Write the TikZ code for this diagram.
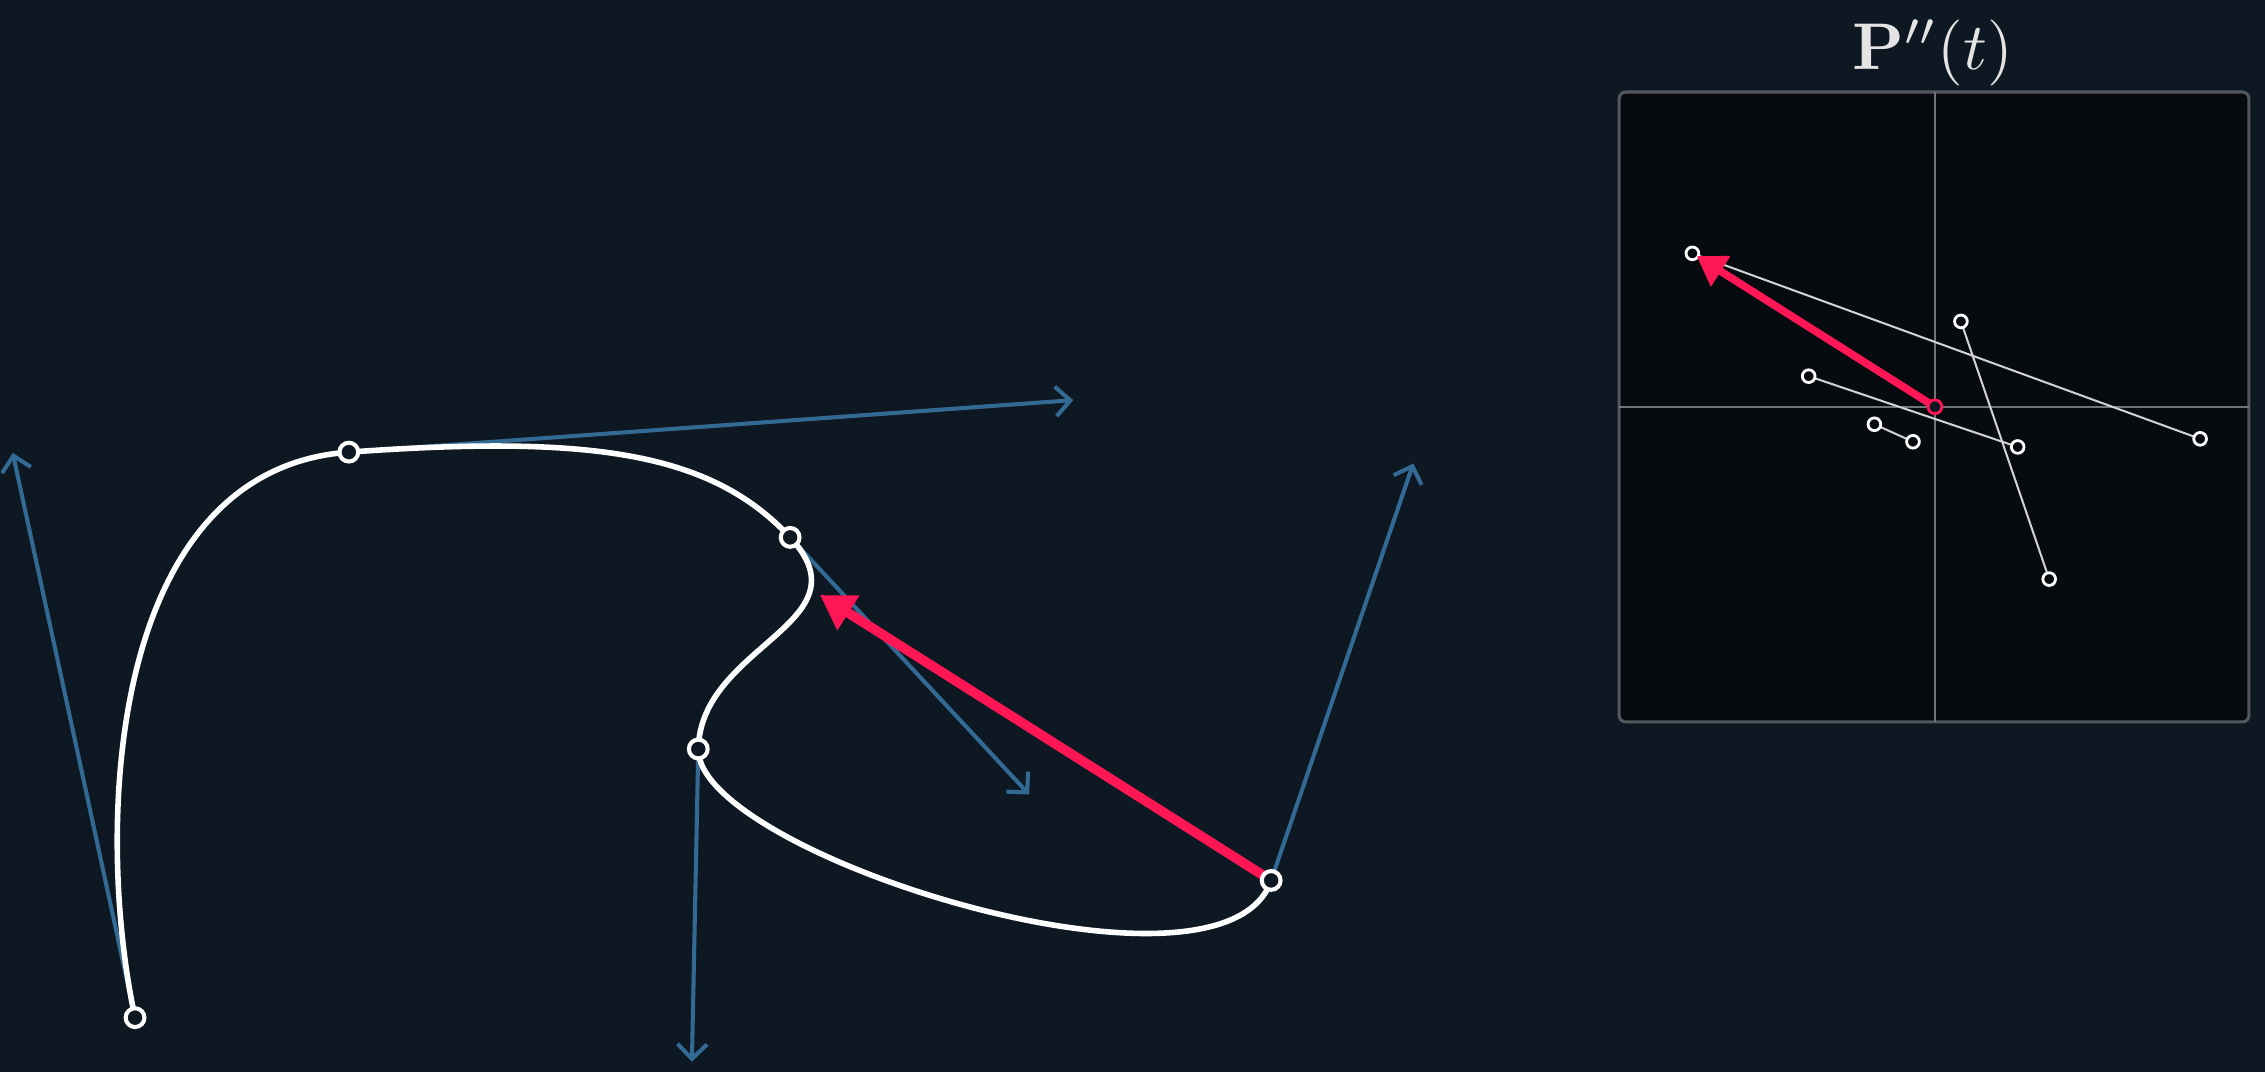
\documentclass[tikz,border=0pt]{standalone}
\usetikzlibrary{arrows.meta}
\definecolor{bg}{RGB}{14,24,34}
\definecolor{panel}{RGB}{7,10,14}
\definecolor{panelborder}{RGB}{82,88,94}
\definecolor{axiscol}{RGB}{112,117,122}
\definecolor{tangentcol}{RGB}{51,106,148}
\definecolor{accelcol}{RGB}{255,22,85}
\definecolor{titlecol}{RGB}{228,228,228}
\definecolor{insetline}{RGB}{210,210,210}
\begin{document}
\begin{tikzpicture}[x=0.01cm,y=-0.01cm,
  curve/.style={draw=white, line width=1.1pt},
  tangentvec/.style={draw=tangentcol, line width=0.8pt, -{Straight Barb[length=2.9pt,width=5.8pt]}},
  accelvec/.style={draw=accelcol, line width=1.9pt, -{Triangle[length=6.6pt,width=7.7pt]}},
  accelsmall/.style={draw=accelcol, line width=1.5pt, -{Triangle[length=5.6pt,width=6.8pt]}, shorten >=1pt},
  mainpt/.style={circle, draw=white, fill=bg, line width=0.8pt, minimum size=0.13cm, inner sep=0pt},
  smallpt/.style={circle, draw=white, fill=panel, line width=0.55pt, minimum size=0.088cm, inner sep=0pt},
  originpt/.style={circle, draw=accelcol, fill=bg, line width=0.55pt, minimum size=0.095cm, inner sep=0pt},
  axisline/.style={draw=axiscol, line width=0.45pt},
  hodo/.style={draw=insetline, line width=0.4pt},
]
% background and bounding box
\fill[bg] (0,0) rectangle (1568,742);
\useasboundingbox (0,0) rectangle (1568,742);

% ---------- inset panel ----------
\coordinate (boxtl) at (1120.9,63.7);
\coordinate (boxbr) at (1556.9,499.8);
\draw[fill=panel, draw=panelborder, line width=0.6pt, rounded corners=1.3pt] (boxtl) rectangle (boxbr);
\coordinate (vtop) at (1339.5,63.7);
\coordinate (vbot) at (1339.5,499.8);
\coordinate (hleft) at (1120.9,281.6);
\coordinate (hright) at (1556.9,281.6);
\draw[axisline] (vtop) -- (vbot);
\draw[axisline] (hleft) -- (hright);

\coordinate (hA) at (1171.6,175.4);
\coordinate (hB) at (1523.1,303.8);
\coordinate (hC) at (1357.5,222.5);
\coordinate (hD) at (1418.6,400.9);
\coordinate (hE) at (1252.1,260.4);
\coordinate (hF) at (1396.8,309.4);
\coordinate (hG) at (1297.6,293.7);
\coordinate (hH) at (1324.3,305.8);
\coordinate (hO) at (1339.5,281.6);

\draw[hodo] (hA) -- (hB);
\draw[hodo] (hC) -- (hD);
\draw[hodo] (hE) -- (hF);
\draw[hodo] (hG) -- (hH);

\foreach \p in {hA,hB,hC,hD,hE,hF,hG,hH}
  \node[smallpt] (n\p) at (\p) {};
\draw[accelsmall] (hO) -- (hA);
\node[originpt] (nhO) at (hO) {};

\node[anchor=base, text=titlecol, inner sep=0pt] (title) at (1338,48.3) {\scalebox{1.3}{$\mathbf{P}''(t)$}};

% ---------- main curve ----------
\coordinate (p0) at (93.5,704.5);
\coordinate (p1) at (241.5,313);
\coordinate (p2) at (547,372);
\coordinate (p3) at (483.4,518.5);
\coordinate (p4) at (880,609.5);

\coordinate (t0) at (8.8,313.5);
\coordinate (t1) at (743,277);
\coordinate (t2) at (712.5,550);
\coordinate (t3) at (479,735);
\coordinate (t4) at (978.4,320.8);

\coordinate (acc) at (567.7,411.9);

\draw[tangentvec] (p0) -- (t0);
\draw[tangentvec] (p1) -- (t1);
\draw[tangentvec] (p2) -- (t2);
\draw[tangentvec] (p3) -- (t3);
\draw[tangentvec] (p4) -- (t4);

\draw[curve] (p0) .. controls (65.3,574.2) and (74.3,325) .. (p1)
                  .. controls (408.7,301) and (491.8,312.7) .. (p2)
                  .. controls (602.2,431.3) and (484.9,446.3) .. (p3)
                  .. controls (481.9,590.7) and (847.2,705.7) .. (p4);

\draw[accelvec] (p4) -- (acc);

\foreach \p in {p0,p1,p2,p3,p4}
  \node[mainpt] (n\p) at (\p) {};
\end{tikzpicture}
\end{document}
